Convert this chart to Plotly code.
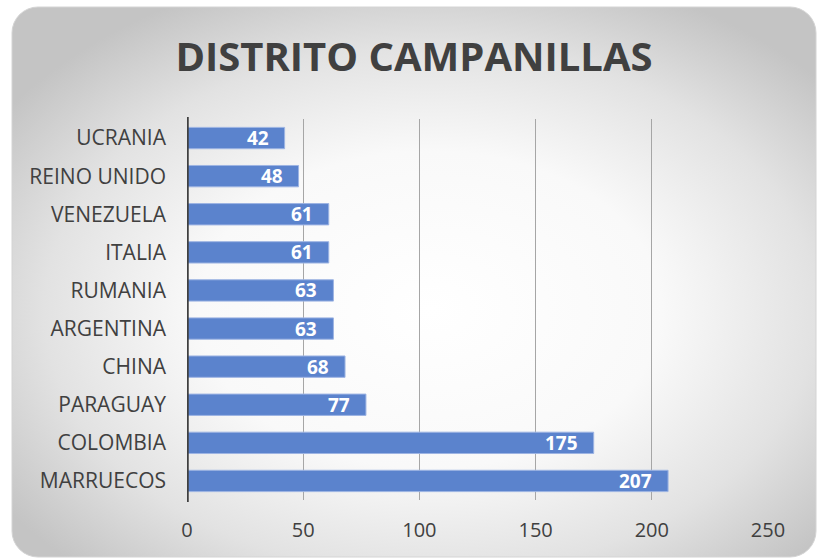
import base64
import plotly.graph_objects as go

countries = ["MARRUECOS", "COLOMBIA", "PARAGUAY", "CHINA", "ARGENTINA",
             "RUMANIA", "ITALIA", "VENEZUELA", "REINO UNIDO", "UCRANIA"]
values = [207, 175, 77, 68, 63, 63, 61, 61, 48, 42]
tick_vals = [0, 50, 100, 150, 200, 250]
title_text = "DISTRITO CAMPANILLAS"

W, H = 822, 559
L, R, T, B = 187, 54, 119, 59
pw, ph = W - L - R, H - T - B
FONT = "Open Sans"

svg = f'''<svg xmlns="http://www.w3.org/2000/svg" width="{W}" height="{H}" viewBox="0 0 {W} {H}">
<defs>
<radialGradient id="g" cx="0.52" cy="0.55" r="0.64" gradientUnits="objectBoundingBox">
<stop offset="0" stop-color="#ffffff"/>
<stop offset="0.45" stop-color="#f9f9f9"/>
<stop offset="0.75" stop-color="#e2e2e2"/>
<stop offset="1" stop-color="#c4c4c4"/>
</radialGradient>
</defs>
<rect x="12" y="7" width="804" height="550" rx="26" ry="26" fill="url(#g)" stroke="#d4d4d4" stroke-width="1"/>
</svg>'''
src = "data:image/svg+xml;base64," + base64.b64encode(svg.encode()).decode()

fig = go.Figure()
fig.add_trace(go.Bar(
    x=values, y=countries, orientation="h",
    marker=dict(color="#5B83CD", line=dict(color="#9db4e3", width=1)),
    hoverinfo="skip",
))

annotations = [
    dict(x=v, y=c, xref="x", yref="y", text=str(v), showarrow=False,
         xanchor="right", yanchor="middle", xshift=-14,
         font=dict(family=FONT, size=19, color="white", weight="bold"))
    for v, c in zip(values, countries)
]

fig.update_layout(
    width=W, height=H,
    margin=dict(l=L, r=R, t=T, b=B, pad=0),
    paper_bgcolor="white", plot_bgcolor="rgba(0,0,0,0)",
    bargap=0.44,
    showlegend=False,
    title=dict(text=title_text, x=0.5 + 3 / W, xref="container", y=1 - 57 / H, yref="container",
               xanchor="center", yanchor="middle",
               font=dict(family=FONT, size=40, color="#404040", weight="bold")),
    xaxis=dict(range=[0, 250], tickvals=tick_vals, showgrid=True, gridcolor="#a6a6a6",
               gridwidth=1, zeroline=False, showline=False, ticks="",
               tickfont=dict(family=FONT, size=20, color="#404040"), ticklabelstandoff=16),
    yaxis=dict(categoryorder="array", categoryarray=countries, showgrid=False,
               showline=False, zeroline=False, ticks="",
               tickfont=dict(family=FONT, size=21, color="#404040"), ticklabelstandoff=20),
    annotations=annotations,
    images=[dict(source=src, xref="paper", yref="paper", x=-L / pw, y=1 + T / ph,
                 sizex=W / pw, sizey=H / ph, xanchor="left", yanchor="top",
                 sizing="stretch", layer="below")],
    shapes=[dict(type="line", xref="x", yref="paper", x0=0, x1=0, y0=-0.005, y1=1.005,
                 line=dict(color="#404040", width=3.5), layer="above")],
)

fig.write_html("out.html", config={"displayModeBar": False},
               post_script="document.body.style.margin='0';")
